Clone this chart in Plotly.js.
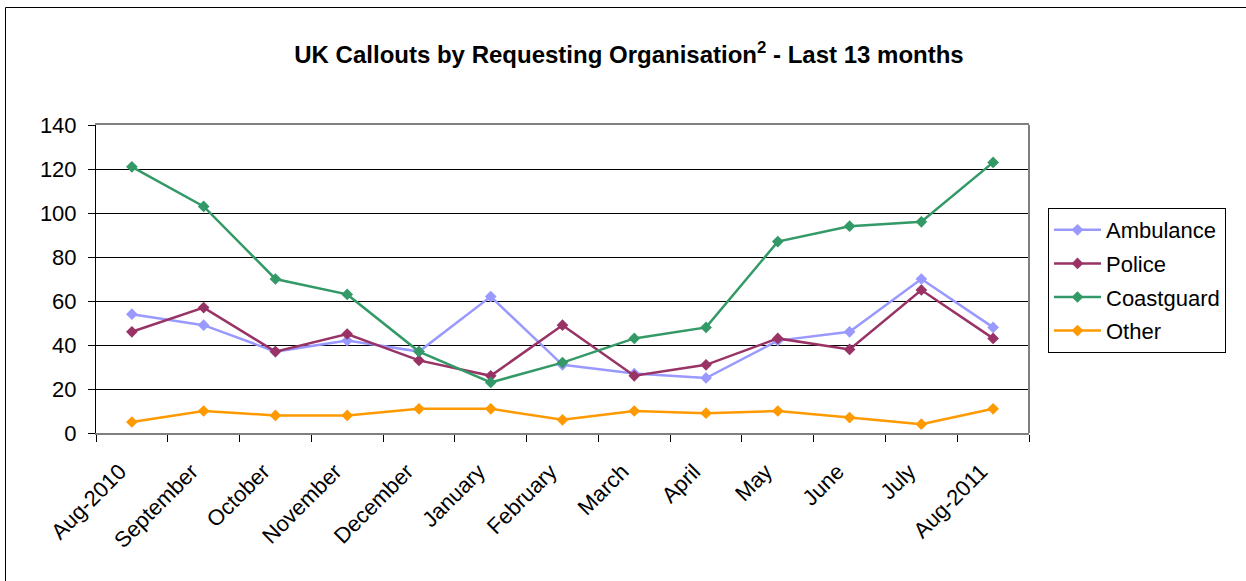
<!DOCTYPE html>
<html>
<head>
<meta charset="utf-8">
<script src="https://cdn.plot.ly/plotly-3.0.1.min.js"></script>
<style>
html,body{margin:0;padding:0;background:#fff;}
#chart{width:1246px;height:581px;}
</style>
</head>
<body>
<div id="chart"></div>
<script>
const months = ["Aug-2010","September","October","November","December","January","February","March","April","May","June","July","Aug-2011"];
const ambulance  = [54, 49, 37, 42, 37, 62, 31, 27, 25, 42, 46, 70, 48];
const police     = [46, 57, 37, 45, 33, 26, 49, 26, 31, 43, 38, 65, 43];
const coastguard = [121, 103, 70, 63, 37, 23, 32, 43, 48, 87, 94, 96, 123];
const other      = [5, 10, 8, 8, 11, 11, 6, 10, 9, 10, 7, 4, 11];
const yTicks = [0, 20, 40, 60, 80, 100, 120, 140];

const seriesNames = ["Ambulance","Police","Coastguard","Other"];
const seriesData = [ambulance, police, coastguard, other];
const seriesColors = ["#9999FF","#993366","#339966","#FF9900"];

const traces = seriesNames.map((n, i) => ({
  type: "scatter",
  mode: "lines+markers",
  name: n,
  legendgroup: n,
  x: months,
  y: seriesData[i],
  line: {color: seriesColors[i], width: 2.5},
  marker: {symbol: "diamond", size: 9, color: seriesColors[i]}
}));

const L = 96, R = 1029, T = 125, B = 433;
const pw = R - L, ph = B - T;
function px(x){ return (x - L) / pw; }
function py(y){ return (B - y) / ph; }

const layout = {
  width: 1246, height: 581,
  margin: {l: L, r: 1246 - R, t: T, b: 581 - B, pad: 0},
  paper_bgcolor: "#fff", plot_bgcolor: "#fff",
  font: {family: "Arial, 'Liberation Sans', sans-serif", size: 22, color: "#000"},
  title: {
    text: "<b>UK Callouts by Requesting Organisation<sup>2</sup> - Last 13 months</b>",
    font: {size: 24, color: "#000"},
    x: 629 / 1246, xanchor: "center",
    y: 1 - 55 / 581, yanchor: "middle"
  },
  showlegend: true,
  legend: {
    x: px(1048), xanchor: "left",
    y: py(208), yanchor: "top",
    bordercolor: "#000", borderwidth: 1,
    bgcolor: "#fff",
    font: {size: 22},
    itemwidth: 47,
    tracegroupgap: 2
  },
  xaxis: {
    type: "category",
    tickson: "boundaries",
    ticks: "outside", ticklen: 7, tickcolor: "#000", tickwidth: 1,
    tickangle: -45,
    ticklabelstandoff: 15,
    ticklabelshift: -12,
    showgrid: false,
    showline: true, linecolor: "#808080", linewidth: 2,
    mirror: true,
    zeroline: false,
    range: [-0.5, 12.5],
    tickfont: {size: 22}
  },
  yaxis: {
    range: [0, 140],
    tickvals: yTicks,
    ticks: "outside", ticklen: 7, tickcolor: "#000", tickwidth: 1,
    ticklabelstandoff: 7,
    showgrid: true, gridcolor: "#000", gridwidth: 1,
    showline: true, linecolor: "#000", linewidth: 1,
    zeroline: false,
    tickfont: {size: 22}
  },
  shapes: [
    {type: "line", xref: "paper", yref: "paper", x0: 1, x1: 1, y0: 0, y1: 1,
     line: {color: "#808080", width: 2}},
    {type: "rect", xref: "paper", yref: "paper",
     x0: px(5.5), x1: px(1400), y0: py(7.5), y1: py(800),
     line: {color: "#000", width: 1}, layer: "below"}
  ]
};

Plotly.newPlot("chart", traces, layout, {staticPlot: true, displayModeBar: false});
</script>
</body>
</html>
